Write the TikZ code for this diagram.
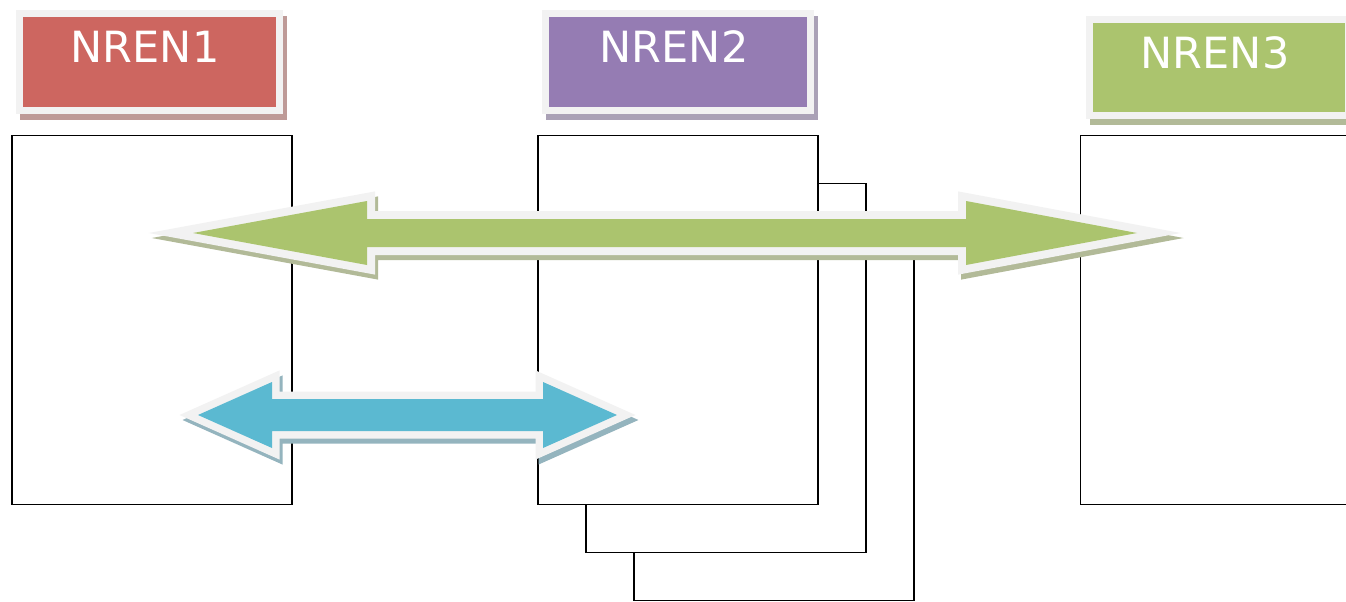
\documentclass[tikz,border=0pt]{standalone}
\usepackage{fontspec}
\setmainfont{DejaVu Sans}
\definecolor{hdrborder}{HTML}{F2F2F2}
\definecolor{nredfill}{HTML}{CD6660}
\definecolor{nredshadow}{HTML}{BE9A97}
\definecolor{npurfill}{HTML}{957CB3}
\definecolor{npurshadow}{HTML}{AAA1B6}
\definecolor{ngrnfill}{HTML}{ABC46E}
\definecolor{ngrnshadow}{HTML}{B2BA98}
\definecolor{nbluefill}{HTML}{5BB9D1}
\definecolor{nblueshadow}{HTML}{94B4BE}
\begin{document}
\begin{tikzpicture}[x=1pt,y=-1pt,
  panel/.style={rectangle, draw=black, line width=1.8pt, fill=white, inner sep=0pt,
    anchor=north west, minimum width=280pt, minimum height=369pt},
  header/.style n args={2}{rectangle, inner sep=0pt, anchor=north west, fill=#1,
    draw=hdrborder, line width=7pt,
    preaction={fill=#2, draw=#2, line width=7pt, transform canvas={shift={(4pt,-6pt)}}}},
  hdrtext/.style={text=white, font=\fontsize{43}{50}\selectfont, anchor=base, inner sep=0pt},
  bigarrow/.style n args={3}{fill=#1, line join=miter,
    preaction={fill=#2, draw=#2, line width=#3, transform canvas={shift={(3pt,-5pt)}}},
    preaction={draw=hdrborder, line width=#3}}
]
\useasboundingbox (0,0) rectangle (1346,602);
\clip (0,0) rectangle (1346,602);

% rectangles
\node[panel] (mid3) at (633,230.5) {};
\node[panel] (mid2) at (585,182.5) {};
\node[panel] (mid1) at (537,134.5) {};
\node[panel] (left) at (11,134.5) {};
\node[panel] (right) at (1079.5,134.5) {};

% headers
\node[header={nredfill}{nredshadow}, minimum width=260pt, minimum height=96pt] (h1) at (15.5,10.5) {};
\node[header={npurfill}{npurshadow}, minimum width=265pt, minimum height=96pt] (h2) at (541.5,10.5) {};
\node[header={ngrnfill}{ngrnshadow}, minimum width=259pt, minimum height=95pt] (h3) at (1085.5,16.5) {};
\node[hdrtext] (t1) at (145,62.5) {NREN1};
\node[hdrtext] (t2) at (674,62.5) {NREN2};
\node[hdrtext] (t3) at (1215,68.5) {NREN3};

% green double arrow
\path[bigarrow={ngrnfill}{ngrnshadow}{16pt}]
  (193,233) -- (367,201) -- (367,219) -- (966,219) -- (966,201) -- (1137,233)
  -- (966,265) -- (966,247) -- (367,247) -- (367,265) -- cycle;

% blue double arrow
\path[bigarrow={nbluefill}{nblueshadow}{15pt}]
  (198,415) -- (272,382) -- (272,399) -- (543,399) -- (543,382) -- (617,415)
  -- (543,448) -- (543,431) -- (272,431) -- (272,448) -- cycle;
\end{tikzpicture}
\end{document}
